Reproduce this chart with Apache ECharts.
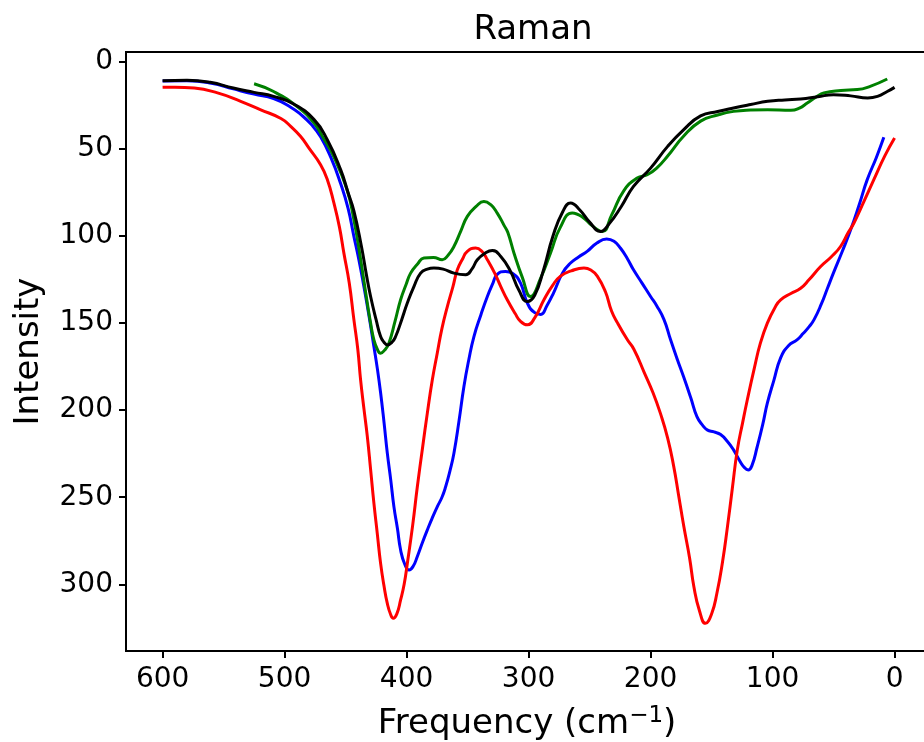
<!DOCTYPE html>
<html>
<head>
<meta charset="utf-8">
<script src="https://cdn.jsdelivr.net/npm/echarts@6/dist/echarts.min.js"></script>
<style>
  html, body { margin: 0; padding: 0; background: #fff; }
  #chart { width: 924px; height: 742px; }
</style>
</head>
<body>
<div id="chart"></div>
<script>
// tick labels
var xTicks = [0, 100, 200, 300, 400, 500, 600];
var yTicks = [0, 50, 100, 150, 200, 250, 300];

// [frequency, intensity]
var blueData = [[600,11],[580,10.8],[560,12.2],[542,15.5],[525,18.5],[509,21],[495,26],[487,30],[478,36],[470.5,43],[462,55],[454,70],[448,84],[443.2,100.2],[439,114],[435,129],[431,145],[426.8,163.4],[424,176],[421.3,190],[418.5,207],[415.8,224.7],[413,240],[410.4,255.4],[407.5,268],[404.9,280.3],[401.5,288.5],[398,291.8],[394.5,289.5],[391.2,284],[387,276],[383,268.8],[379,262],[374.8,255.4],[371,250],[368,244],[364.5,235],[361.2,224.7],[357,206],[353,186.4],[349,171],[344.8,157.7],[339,145],[333.8,134.7],[329.5,127.5],[325.7,122],[319,120.3],[313,121.5],[306.6,127],[301,138.5],[295,144],[290,145],[285,140],[279.5,132.6],[272,121],[265.6,115.5],[259,112],[252,108.8],[244,104],[236,101.7],[230,103],[224.6,107],[219,113],[214,119.4],[207,127],[200,134.7],[195,140],[189,148],[183.6,159.6],[178,171],[173,180.7],[167,193],[162,203.7],[157,209],[153.6,211.3],[148,212.5],[142.6,214],[137,218],[132,222.8],[127,229],[123,233],[120,234.3],[117,232],[112.6,221],[108,208],[104.3,196],[99,183],[93.4,170],[87,163],[80,159.6],[75,156],[70,152],[66,148],[60,139],[55,130],[50,121],[43,109],[36,96.4],[29,82],[22.4,67.6],[15,55],[8.8,43.3]];

var redData = [[600,14.6],[590,14.5],[574,15],[555,17.8],[536,22.6],[520,27.4],[503,32.5],[495,37],[487,42.7],[480,49.5],[470.5,59],[465,67.5],[459.6,81],[455,95],[451.4,109.8],[447,127],[443.2,148],[440,165],[437.7,182.6],[435,199],[432.2,215],[429.5,234],[426.8,253.4],[424,271],[421.3,288],[418.5,301],[415.8,311],[413,317.5],[410.9,319.5],[408,317],[404.9,309],[402,300],[399.4,288],[395,266],[391.2,244],[387,222],[383,201.7],[379,183],[374.8,167],[371,153],[366.6,140.5],[362,129],[358.4,119.4],[354,113],[350.2,108.8],[343.4,106.9],[338,109],[333.8,113.6],[328,121],[322.8,129],[317.5,136.6],[311,144.5],[306.6,149],[301,151],[295,147],[287.4,136.6],[280,128],[273.8,123],[265,120],[254.6,118.4],[249,119.5],[243.7,123],[237,132],[232,143],[227,150],[219,159.6],[213.7,165],[205,178.7],[198,190],[192,201.7],[186,216],[181,232.4],[177,249],[172.7,267],[168,285],[164.5,301.4],[160,315],[155,322.4],[150,317],[145.6,305],[141,287],[137,267],[133,245],[128.9,222.8],[124.5,207],[120.7,194],[115,176],[110,161.5],[104.3,150],[98,141],[93.4,136.6],[85,133],[77,130],[70,125],[60.6,117.5],[52,112],[44.3,106],[38,98],[33.3,92.5],[25,80],[17,67.6],[8,54],[0,43.7]];

var greenData = [[525,12.5],[509,17],[490,25.5],[476,35],[468,44],[460,54],[449,73],[443.2,90.6],[438,112],[432.2,138.5],[429.5,150],[426.8,159.6],[424,165],[421.3,167.3],[418,165.5],[414.5,161.5],[409.5,149],[404.9,136.6],[400.5,128],[396.7,121.3],[391,116],[385.8,112.6],[378,112.3],[370.8,113.6],[366,111],[361.2,106],[355.5,97],[350.2,88.7],[343,83],[336.6,80.1],[331,82],[325.7,86.8],[320,94],[317,98],[312,109.7],[305,124],[298.4,134.7],[290,124],[282,109.7],[274,95],[264.2,86.8],[256,89],[248,94],[239.6,97.4],[232,88],[222,74],[211,66.7],[202.7,64.8],[195,61],[186,54],[173,42.7],[159,34],[145,30.5],[132,28.4],[118,27.6],[104,27.4],[85,27.8],[78,26.5],[71.6,23.6],[64,20],[58,17.8],[44,16.4],[30.6,15.9],[20,14],[6,9.8]];

var blackData = [[600,10.8],[580,10.5],[561,11.7],[542,15],[525,17.5],[509,19.8],[493,24],[476,33],[465,44.7],[454,62],[448,75],[443.2,85.5],[437,106],[433,122],[429.5,134.7],[425,148],[421.3,157.7],[418.5,161],[415.8,162.5],[412,161],[409,157.7],[404,148],[399.4,138.5],[394,129],[388.5,121.3],[383,119],[377.6,118.4],[370,119],[361.2,121.3],[351.6,122.2],[346.5,119],[342,113.6],[336,110],[329.7,108.3],[322.8,111.7],[315,120],[308,131],[301,137.6],[295,134],[288,120],[280,100],[272,86],[265.6,81],[258,85],[250,92],[241,97.4],[234,93],[224,83],[214,71.5],[200,61],[186,48.5],[173,39],[159,31],[145,28.5],[132,26.5],[118,24.5],[104,22.6],[90,21.8],[77,21.3],[63,20],[50,18.8],[36,19.5],[22,20.7],[14,19.8],[6,17],[0,14.6]];

var chart = echarts.init(document.getElementById('chart'));
var font = 'DejaVu Sans';

function line(name, color, data) {
  return {
    name: name,
    type: 'line',
    data: data,
    showSymbol: false,
    symbol: 'none',
    smooth: 0.5,
    lineStyle: { color: color, width: 3 }
  };
}

var option = {
  animation: false,
  backgroundColor: '#fff',
  title: {
    text: 'Raman',
    left: 528,
    textAlign: 'center',
    top: 8,
    textStyle: { fontFamily: font, fontSize: 34, fontWeight: 'normal', color: '#000' }
  },
  grid: {
    left: 126, top: 52, right: -4, bottom: 91,
    outerBoundsMode: 'none',
    show: true, borderColor: '#000', borderWidth: 2
  },
  xAxis: {
    type: 'value',
    inverse: true,
    min: -27.4,
    max: 630,
    name: 'Frequency (cm{sup|\u22121})',
    nameLocation: 'middle',
    nameGap: 54,
    nameTextStyle: {
      fontFamily: font, fontSize: 34, color: '#000',
      rich: { sup: { fontFamily: font, fontSize: 23, color: '#000', padding: [0, 0, 16, 0] } }
    },
    axisLine: { show: true, onZero: false, lineStyle: { color: '#000', width: 2 } },
    axisTick: { show: true, length: 7, lineStyle: { color: '#000', width: 2 }, customValues: xTicks },
    axisLabel: { fontFamily: font, fontSize: 28, color: '#000', margin: 15, customValues: xTicks },
    splitLine: { show: false }
  },
  yAxis: {
    type: 'value',
    inverse: true,
    min: -5.7,
    max: 338.3,
    name: 'Intensity',
    nameLocation: 'middle',
    nameGap: 80,
    nameTextStyle: { fontFamily: font, fontSize: 34, color: '#000' },
    axisLine: { show: true, onZero: false, lineStyle: { color: '#000', width: 2 } },
    axisTick: { show: true, length: 7, lineStyle: { color: '#000', width: 2 }, customValues: yTicks },
    axisLabel: { fontFamily: font, fontSize: 28, color: '#000', margin: 13, customValues: yTicks },
    splitLine: { show: false }
  },
  series: [
    line('blue', '#0000ff', blueData),
    line('red', '#ff0000', redData),
    line('green', '#008000', greenData),
    line('black', '#000000', blackData)
  ]
};

chart.setOption(option);
</script>
</body>
</html>
